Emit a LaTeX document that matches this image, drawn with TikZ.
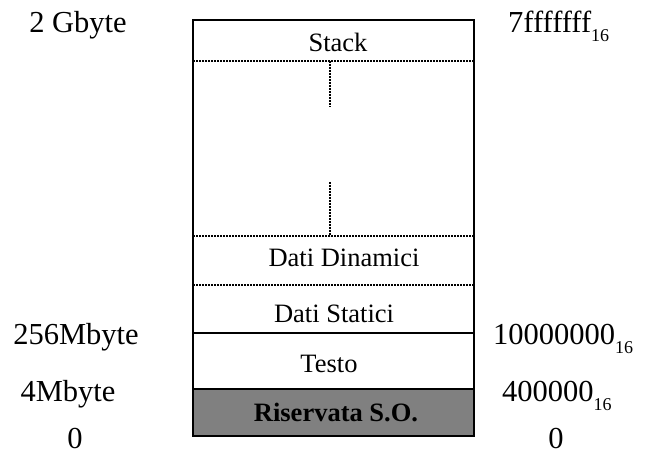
\documentclass[tikz,border=0pt]{standalone}
\usepackage{fontspec}
\setmainfont{Liberation Serif}

\tikzset{
  lbl/.style = {font=\fontsize{30.5}{34}\selectfont, inner sep=0pt, anchor=base},
  hex/.style = {font=\fontsize{30.5}{34}\selectfont, inner sep=0pt, anchor=base west},
  area/.style = {font=\fontsize{26.5}{30}\selectfont, inner sep=0pt, anchor=base},
  wall/.style = {line width=2pt},
  split/.style = {line width=2pt, dash pattern=on 2pt off 1pt}
}
\newcommand{\hexsub}[1]{\raisebox{-8.5pt}{\fontsize{18}{20}\selectfont #1}}

\begin{document}
\begin{tikzpicture}[x=1pt,y=1pt]
    \useasboundingbox (0,0) rectangle (646,454);

    \coordinate (BL) at (193,18);
    \coordinate (TR) at (474,434);
    \coordinate (SO) at (474,65);
    \coordinate (TX) at (474,121);
    \coordinate (DS) at (474,169);
    \coordinate (DD) at (474,218);
    \coordinate (ST) at (474,393);

    \fill[gray] (BL) rectangle (SO);
    \draw[wall] (BL) rectangle (TR);
    \draw[wall] (SO) -- (SO -| BL);
    \draw[wall] (TX) -- (TX -| BL);
    \draw[split] (DS) -- (DS -| BL);
    \draw[split] (DD) -- (DD -| BL);
    \draw[split] (ST) -- (ST -| BL);

    \coordinate (top) at (330,393);
    \coordinate (topend) at (330,347);
    \coordinate (bot) at (330,272);
    \coordinate (botend) at (330,218);
    \draw[split] (top) -- (topend);
    \draw[split] (bot) -- (botend);

    \node[area] (stack) at (338,402) {Stack};
    \node[area] (dyn) at (344,187) {Dati Dinamici};
    \node[area] (stat) at (334,131) {Dati Statici};
    \node[area] (text) at (329,81) {Testo};
    \node[area] (res) at (336,32) {\bfseries Riservata S.O.};

    \node[lbl] (gb) at (78,421) {2 Gbyte};
    \node[lbl] (mb256) at (76,109) {256Mbyte};
    \node[lbl] (mb4) at (68,52) {4Mbyte};
    \node[lbl] (zl) at (75,5) {0};

    \node[hex] (hmax) at (508,421) {7fffffff\hexsub{16}};
    \node[hex] (htext) at (493,109) {10000000\hexsub{16}};
    \node[hex] (hres) at (502,52) {400000\hexsub{16}};
    \node[lbl] (zr) at (556,5) {0};
\end{tikzpicture}
\end{document}
